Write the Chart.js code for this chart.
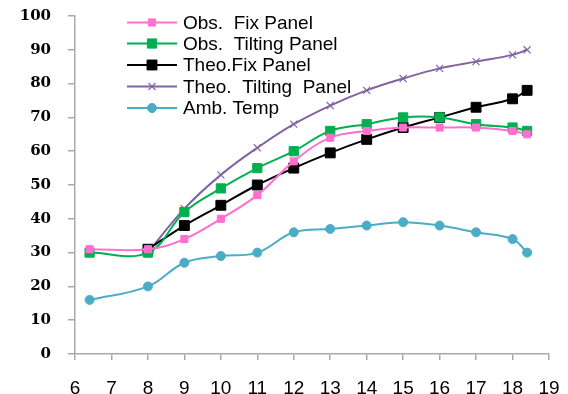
<!DOCTYPE html>
<html>
<head>
<meta charset="utf-8">
<script src="https://cdn.jsdelivr.net/npm/chart.js@4/dist/chart.umd.min.js"></script>
<style>
  html, body { margin: 0; padding: 0; background: #ffffff; }
  #wrap { width: 568px; height: 394px; position: relative; }
</style>
</head>
<body>
<div id="wrap"><canvas id="chart" width="568" height="394"></canvas></div>
<script>
// Hour of day at which each reading was taken
const hours = [6.4, 8, 9, 10, 11, 12, 13, 14, 15, 16, 17, 18, 18.4];

// Temperatures (°C)
const obsFix   = [31, 31, 34, 40, 47, 57, 64, 66, 67, 67, 67, 66, 65];
const obsTilt  = [30, 30, 42, 49, 55, 60, 66, 68, 70, 70, 68, 67, 66];
const theoFix  = [null, 31, 38, 44, 50, 55, 59.5, 63.5, 67, 70, 73, 75.5, 78];
const theoTilt = [null, 30, 43, 53, 61, 68, 73.5, 78, 81.5, 84.5, 86.5, 88.5, 90];
const ambTemp  = [16, 20, 27, 29, 30, 36, 37, 38, 39, 38, 36, 34, 30];

const seriesNames = ['Obs.  Fix Panel', 'Obs.  Tilting Panel', 'Theo.Fix Panel', 'Theo.  Tilting  Panel', 'Amb. Temp'];

const xTicks = [6, 7, 8, 9, 10, 11, 12, 13, 14, 15, 16, 17, 18, 19];
const yTicks = [0, 10, 20, 30, 40, 50, 60, 70, 80, 90, 100];

function toPoints(values) {
  const pts = [];
  values.forEach((v, i) => { if (v !== null) pts.push({ x: hours[i], y: v }); });
  return pts;
}

const AXIS = '#a9a9a9';

const styles = [
  { color: '#ff6fcf', pointStyle: 'rect', radius: 5 },
  { color: '#00b050', pointStyle: 'rect', radius: 6.5 },
  { color: '#000000', pointStyle: 'rect', radius: 7 },
  { color: '#8064a2', pointStyle: 'crossRot', radius: 5 },
  { color: '#4bacc6', pointStyle: 'circle', radius: 4.5 }
];

const seriesData = [obsFix, obsTilt, theoFix, theoTilt, ambTemp];

const datasets = seriesData.map((vals, i) => ({
  label: seriesNames[i],
  data: toPoints(vals),
  borderColor: styles[i].color,
  backgroundColor: styles[i].color,
  borderWidth: 2,
  pointStyle: styles[i].pointStyle,
  pointRadius: styles[i].radius,
  pointBorderWidth: styles[i].pointStyle === 'crossRot' ? 1.2 : 1,
  pointBorderColor: styles[i].color,
  pointBackgroundColor: styles[i].color,
  tension: 0.4,
  fill: false
}));

// Legend drawn inside the plot, top-left, with line + marker samples
const insideLegend = {
  id: 'insideLegend',
  afterDatasetsDraw(chart) {
    const ctx = chart.ctx;
    const x0 = 127, x1 = 177, textX = 183;
    const rows = [22.5, 43.5, 65, 86.5, 108];
    ctx.save();
    ctx.font = '19px "Liberation Sans", Arial, sans-serif';
    ctx.textBaseline = 'middle';
    ctx.textAlign = 'left';
    chart.data.datasets.forEach((ds, i) => {
      const y = rows[i];
      ctx.strokeStyle = ds.borderColor;
      ctx.lineWidth = 2;
      ctx.beginPath();
      ctx.moveTo(x0, y);
      ctx.lineTo(x1, y);
      ctx.stroke();
      ctx.fillStyle = ds.backgroundColor;
      ctx.lineWidth = ds.pointBorderWidth;
      Chart.helpers.drawPoint(ctx, {
        pointStyle: ds.pointStyle,
        radius: ds.pointRadius,
        borderWidth: ds.pointBorderWidth,
        rotation: 0
      }, (x0 + x1) / 2, y);
      ctx.fillStyle = '#000000';
      ctx.fillText(ds.label, textX, y + 1);
    });
    ctx.restore();
  }
};

new Chart(document.getElementById('chart'), {
  type: 'line',
  data: { datasets },
  options: {
    responsive: false,
    animation: false,
    layout: { padding: { top: 16, right: 19, left: 0, bottom: 0 } },
    plugins: {
      legend: { display: false },
      tooltip: { enabled: false }
    },
    scales: {
      x: {
        type: 'linear',
        min: xTicks[0],
        max: xTicks[xTicks.length - 1],
        afterBuildTicks(scale) { scale.ticks = xTicks.map(v => ({ value: v })); },
        afterFit(scale) {
          scale.height = 40;
          scale.paddingLeft = 0;
          scale.paddingRight = 0;
        },
        grid: { display: true, drawOnChartArea: false, drawTicks: true, tickLength: 6, color: AXIS, lineWidth: 1.5 },
        border: { display: true, color: AXIS, width: 1.5 },
        ticks: {
          color: '#000000',
          padding: 17,
          maxRotation: 0,
          autoSkip: false,
          font: { family: '"Liberation Sans", Arial, sans-serif', size: 19 }
        }
      },
      y: {
        min: yTicks[0],
        max: yTicks[yTicks.length - 1],
        afterBuildTicks(scale) { scale.ticks = yTicks.map(v => ({ value: v })); },
        afterFit(scale) {
          scale.width = 75;
          scale.paddingTop = 0;
          scale.paddingBottom = 0;
        },
        grid: { display: true, drawOnChartArea: false, drawTicks: true, tickLength: 7, color: AXIS, lineWidth: 1.5 },
        border: { display: true, color: AXIS, width: 1.5 },
        ticks: {
          color: '#000000',
          padding: 17,
          autoSkip: false,
          font: { family: '"DejaVu Serif", serif', size: 15, weight: 'bold' }
        }
      }
    }
  },
  plugins: [insideLegend]
});
</script>
</body>
</html>
